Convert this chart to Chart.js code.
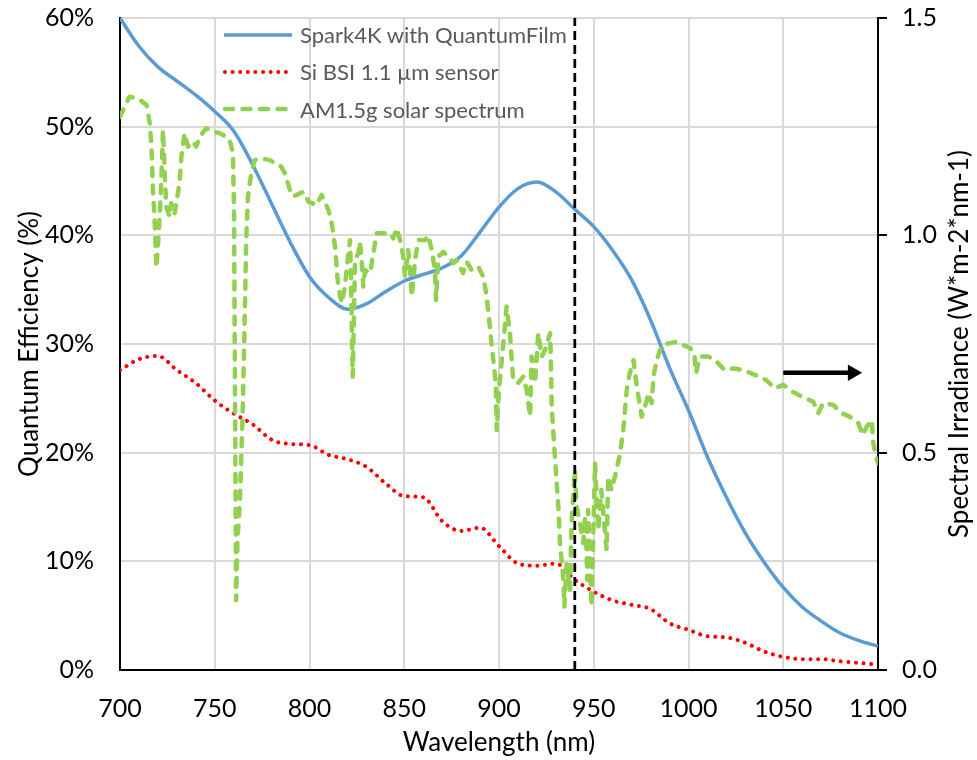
<!DOCTYPE html>
<html><head><meta charset="utf-8">
<script src="https://cdn.jsdelivr.net/npm/chart.js@4.4.1/dist/chart.umd.min.js"></script>
<style>
html,body{margin:0;padding:0;background:#fff;}
#wrap{position:relative;width:977px;height:760px;overflow:hidden;}
canvas{display:block;}
#legend{position:absolute;left:223px;top:16px;font-family:Lato,sans-serif;font-size:22px;color:#595959;}
.row{display:flex;align-items:center;height:37.3px;white-space:nowrap;}
.row svg{margin-right:7px;}
</style></head>
<body><div id="wrap"><canvas id="c" width="977" height="760" style="width:977px;height:760px"></canvas><div id="legend"></div></div>
<script>
// ---- data ----
const wavelengths = [700,710,720,730,740,750,760,770,780,790,800,810,820,830,840,850,860,870,880,890,900,910,920,930,940,950,960,970,980,990,1000,1010,1020,1030,1040,1050,1060,1070,1080,1090,1100];
const sparkQE = [60.0,57.4,55.5,54.2,52.9,51.4,49.6,46.5,42.9,39.3,36.2,34.3,33.2,33.7,34.8,35.8,36.4,37.0,38.1,40.3,42.6,44.3,44.9,44.0,42.4,40.8,38.6,35.9,32.2,27.8,23.9,19.6,15.9,12.6,9.9,7.6,5.8,4.5,3.4,2.7,2.2];
const siBsiQE = [27.6,28.6,28.9,27.6,26.4,24.8,23.6,22.6,21.2,20.8,20.7,19.8,19.4,18.7,17.2,16.0,15.9,13.7,12.8,13.1,11.4,9.8,9.6,9.8,8.3,7.2,6.4,6.0,5.6,4.3,3.7,3.1,3.0,2.5,1.7,1.2,1.0,1.0,0.8,0.65,0.5];
const am15Wl = [700,702.5,705,709.5,714,715.7,716.6,717.4,718.3,719.2,720.2,721,721.8,722.7,723.6,724.4,726.2,727,728.8,730.6,731.5,732.4,734.1,735.9,738.5,740.3,742,745.5,749,752.6,756,757.9,759.6,760.2,760.6,761,761.3,762,763.3,764.9,766,766.6,767.5,769.3,771,774.6,779,782,785,787,789.7,791.5,795,797,799.5,803.8,806.4,810,811.7,813.5,814.4,815.2,817,818.7,820,821.4,822,822.8,823.5,824,825.8,826.6,827.5,828.4,829.3,832,833.7,835.5,839,842.5,844.2,846,847.8,849.5,850.4,852.1,853,854,855.7,857.4,861,862.7,864.5,866.2,866.8,868,870.6,874,876,877.7,881,883,885.6,889,891.7,893.5,895,896,897,898.3,898.8,900,901,904,905.8,906.7,907.5,910,912.8,914.6,916.4,917.2,919,920.7,922.5,924.3,927,927.4,927.8,929.5,931.3,932.2,934,934.5,935.7,937.5,938.3,940,941,942.7,944.5,945.4,946.2,946.6,947,948.8,950.7,951.5,952.4,954,956.8,957.6,959.4,962,963.9,965.6,967.4,969,971,972.7,975.3,976,978,978.8,980.6,981.5,983.2,985,986.7,990,993.8,997,1000.8,1003,1004,1006,1010.5,1015,1019,1023.6,1029,1035,1041,1045.6,1050,1055,1059.7,1065.9,1068.5,1071,1076.4,1080.8,1085,1089.6,1092,1094,1096.7,1097.5,1099,1100];
const am15Irr = [1.273,1.296,1.319,1.315,1.300,1.258,1.204,1.104,1.035,0.925,0.99,1.05,1.127,1.242,1.143,1.066,1.043,1.074,1.05,1.097,1.127,1.181,1.235,1.204,1.216,1.204,1.227,1.246,1.239,1.235,1.227,1.219,1.189,1.05,0.7,0.4,0.161,0.3,0.39,0.62,0.85,0.989,1.089,1.143,1.173,1.177,1.173,1.166,1.158,1.143,1.104,1.089,1.097,1.10,1.077,1.07,1.093,1.058,1.028,0.974,0.92,0.882,0.844,0.882,0.94,0.989,0.874,0.675,0.82,0.943,0.959,0.985,0.943,0.882,0.92,0.913,0.959,1.005,1.005,1.005,0.993,1.016,0.989,0.951,0.905,0.966,0.92,0.859,0.943,0.989,0.989,1.0,0.966,0.92,0.851,0.951,0.962,0.947,0.936,0.943,0.913,0.939,0.92,0.928,0.905,0.859,0.798,0.752,0.713,0.66,0.552,0.644,0.69,0.836,0.775,0.713,0.667,0.66,0.675,0.644,0.583,0.721,0.66,0.775,0.721,0.736,0.775,0.706,0.606,0.491,0.376,0.292,0.207,0.146,0.245,0.184,0.338,0.46,0.376,0.338,0.292,0.353,0.276,0.207,0.368,0.146,0.476,0.399,0.322,0.414,0.276,0.445,0.414,0.46,0.499,0.552,0.644,0.683,0.713,0.652,0.583,0.591,0.621,0.637,0.614,0.675,0.713,0.736,0.748,0.752,0.755,0.748,0.741,0.729,0.683,0.721,0.721,0.709,0.69,0.694,0.69,0.679,0.667,0.648,0.656,0.64,0.629,0.617,0.591,0.614,0.61,0.591,0.583,0.568,0.54,0.56,0.575,0.522,0.49,0.476];
const markerWl = [940, 940];
const markerQE = [0, 60];
const arrowWl = [1050, 1086.6];
const arrowIrr = [0.684, 0.684];
const xTickValues = [700,750,800,850,900,950,1000,1050,1100];
const leftTickValues = [0,10,20,30,40,50,60];
const rightTickValues = [0.0,0.5,1.0,1.5];
const seriesNames = ['Spark4K with QuantumFilm','Si BSI 1.1 µm sensor','AM1.5g solar spectrum'];
const xTitle = 'Wavelength (nm)';
const leftTitle = 'Quantum Efficiency (%)';
const rightTitle = 'Spectral Irradiance (W*m-2*nm-1)';

// ---- styles ----
const BLUE = '#5B9BD5', RED = '#FF0000', GREEN = '#92D050';
const FONT = 'Lato';
const TITLE_SIZE = 26, TICK_SIZE = 25;
const zip = (xs, ys) => xs.map((x, i) => ({x, y: ys[i]}));

const rightTitlePlugin = {
  id: 'rightTitle',
  afterDraw(chart) {
    const {ctx, chartArea} = chart;
    ctx.save();
    ctx.translate(960, (chartArea.top + chartArea.bottom) / 2);
    ctx.rotate(-Math.PI / 2);
    ctx.font = TITLE_SIZE + 'px ' + FONT;
    ctx.fillStyle = '#000';
    ctx.textAlign = 'center';
    ctx.textBaseline = 'middle';
    ctx.fillText(rightTitle, 0, 0);
    ctx.restore();
  }
};

const fixVPad = s => { s.paddingTop = 12; s.paddingBottom = 12; };

new Chart(document.getElementById('c'), {
  type: 'line',
  data: {
    datasets: [
      {label: 'marker', data: zip(markerWl, markerQE), yAxisID: 'y', borderColor: '#000', borderWidth: 2.75, borderDash: [9, 5], pointRadius: 0, order: 0},
      {label: 'arrow', data: zip(arrowWl, arrowIrr), yAxisID: 'y2', borderColor: '#000', borderWidth: 4.5,
        pointRadius: [0, 9.5], pointStyle: 'triangle', rotation: 90, pointBackgroundColor: '#000', pointBorderColor: '#000', pointBorderWidth: 0, order: 0},
      {label: seriesNames[2], data: zip(am15Wl, am15Irr), yAxisID: 'y2', borderColor: GREEN, borderWidth: 4.5, borderDash: [8, 9.5], borderCapStyle: 'round', borderJoinStyle: 'round', pointRadius: 0, tension: 0, order: 1},
      {label: seriesNames[1], data: zip(wavelengths, siBsiQE), yAxisID: 'y', borderColor: RED, borderWidth: 4, borderDash: [0.01, 7.6], borderCapStyle: 'round', pointRadius: 0, cubicInterpolationMode: 'monotone', order: 2},
      {label: seriesNames[0], data: zip(wavelengths, sparkQE), yAxisID: 'y', borderColor: BLUE, borderWidth: 3.5, pointRadius: 0, cubicInterpolationMode: 'monotone', order: 3}
    ]
  },
  options: {
    responsive: false, animation: false,
    layout: {padding: {top: 18, left: 0, right: 0, bottom: 0}},
    plugins: {legend: {display: false}, tooltip: {enabled: false}},
    scales: {
      x: {
        type: 'linear', min: 700, max: 1100, position: 'bottom',
        afterBuildTicks: s => { s.ticks = xTickValues.map(v => ({value: v})); },
        ticks: {font: {family: FONT, size: TICK_SIZE}, color: '#000', padding: 24, maxRotation: 0, autoSkip: false, callback: v => String(v)},
        grid: {color: '#d9d9d9', lineWidth: 2, drawTicks: false},
        border: {color: '#000', width: 2},
        title: {display: true, text: xTitle, font: {family: FONT, size: TITLE_SIZE}, color: '#000', padding: {top: 0, bottom: 2}},
        afterFit: s => { s.height = 90; }
      },
      y: {
        position: 'left', min: 0, max: 60,
        afterBuildTicks: s => { s.ticks = leftTickValues.map(v => ({value: v})); },
        ticks: {font: {family: FONT, size: TICK_SIZE}, color: '#000', padding: 26, callback: v => v + '%'},
        grid: {color: '#d9d9d9', lineWidth: 2, drawTicks: false},
        border: {color: '#000', width: 2},
        title: {display: true, text: leftTitle, font: {family: FONT, size: TITLE_SIZE}, color: '#000', padding: {top: 14, bottom: 0}},
        afterFit: s => { s.width = 120; fixVPad(s); }
      },
      y2: {
        position: 'right', min: 0, max: 1.5,
        afterBuildTicks: s => { s.ticks = rightTickValues.map(v => ({value: v})); },
        ticks: {font: {family: FONT, size: TICK_SIZE}, color: '#000', padding: 15, callback: v => Number(v).toFixed(1)},
        grid: {drawOnChartArea: false, drawTicks: true, tickLength: 9, color: '#000', lineWidth: 2},
        border: {color: '#000', width: 2},
        afterFit: s => { s.width = 99; fixVPad(s); }
      }
    }
  },
  plugins: [rightTitlePlugin]
});

// ---- legend (HTML) ----
const legendStyles = [
  `<line x1="1" y1="6" x2="69" y2="6" stroke="${BLUE}" stroke-width="3.5"/>`,
  `<line x1="2" y1="6" x2="69" y2="6" stroke="${RED}" stroke-width="4" stroke-linecap="round" stroke-dasharray="0.01 7.6"/>`,
  `<line x1="2" y1="6" x2="69" y2="6" stroke="${GREEN}" stroke-width="4.5" stroke-linecap="round" stroke-dasharray="8 9.5"/>`
];
document.getElementById('legend').innerHTML = seriesNames.map((n, i) =>
  `<div class="row"><svg width="70" height="12">${legendStyles[i]}</svg><span>${n}</span></div>`).join('');
</script>
</body></html>
